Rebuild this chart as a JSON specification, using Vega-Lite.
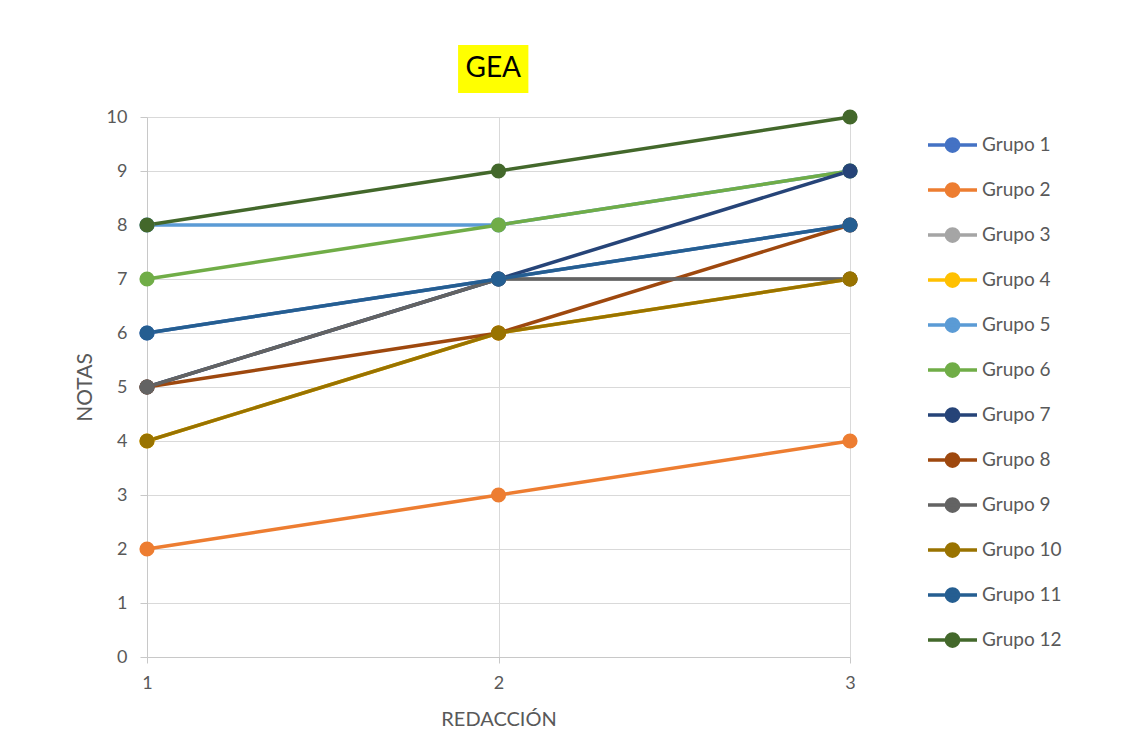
{
  "$schema": "https://vega.github.io/schema/vega-lite/v6.json",
  "width": 703,
  "height": 540,
  "autosize": {"type": "none"},
  "padding": {"left": 147, "top": 117, "right": 278, "bottom": 74},
  "background": "white",
  "config": {
    "font": "Lato",
    "view": {"stroke": null},
    "axis": {
      "grid": true,
      "gridColor": "#D9D9D9",
      "gridWidth": 1,
      "domainColor": "#C8C8C8",
      "domainWidth": 1,
      "tickColor": "#C8C8C8",
      "labelColor": "#595959",
      "labelFlush": false,
      "labelOverlap": false,
      "titleFontWeight": "normal",
      "titleColor": "#595959"
    }
  },
  "layer": [
    {
      "data": {
        "values": [
          {"grupo": "Grupo 1", "redaccion": 1, "nota": 6},
          {"grupo": "Grupo 1", "redaccion": 2, "nota": 7},
          {"grupo": "Grupo 1", "redaccion": 3, "nota": 8},
          {"grupo": "Grupo 2", "redaccion": 1, "nota": 2},
          {"grupo": "Grupo 2", "redaccion": 2, "nota": 3},
          {"grupo": "Grupo 2", "redaccion": 3, "nota": 4},
          {"grupo": "Grupo 3", "redaccion": 1, "nota": 5},
          {"grupo": "Grupo 3", "redaccion": 2, "nota": 7},
          {"grupo": "Grupo 3", "redaccion": 3, "nota": 7},
          {"grupo": "Grupo 4", "redaccion": 1, "nota": 4},
          {"grupo": "Grupo 4", "redaccion": 2, "nota": 6},
          {"grupo": "Grupo 4", "redaccion": 3, "nota": 7},
          {"grupo": "Grupo 5", "redaccion": 1, "nota": 8},
          {"grupo": "Grupo 5", "redaccion": 2, "nota": 8},
          {"grupo": "Grupo 5", "redaccion": 3, "nota": 9},
          {"grupo": "Grupo 6", "redaccion": 1, "nota": 7},
          {"grupo": "Grupo 6", "redaccion": 2, "nota": 8},
          {"grupo": "Grupo 6", "redaccion": 3, "nota": 9},
          {"grupo": "Grupo 7", "redaccion": 1, "nota": 5},
          {"grupo": "Grupo 7", "redaccion": 2, "nota": 7},
          {"grupo": "Grupo 7", "redaccion": 3, "nota": 9},
          {"grupo": "Grupo 8", "redaccion": 1, "nota": 5},
          {"grupo": "Grupo 8", "redaccion": 2, "nota": 6},
          {"grupo": "Grupo 8", "redaccion": 3, "nota": 8},
          {"grupo": "Grupo 9", "redaccion": 1, "nota": 5},
          {"grupo": "Grupo 9", "redaccion": 2, "nota": 7},
          {"grupo": "Grupo 9", "redaccion": 3, "nota": 7},
          {"grupo": "Grupo 10", "redaccion": 1, "nota": 4},
          {"grupo": "Grupo 10", "redaccion": 2, "nota": 6},
          {"grupo": "Grupo 10", "redaccion": 3, "nota": 7},
          {"grupo": "Grupo 11", "redaccion": 1, "nota": 6},
          {"grupo": "Grupo 11", "redaccion": 2, "nota": 7},
          {"grupo": "Grupo 11", "redaccion": 3, "nota": 8},
          {"grupo": "Grupo 12", "redaccion": 1, "nota": 8},
          {"grupo": "Grupo 12", "redaccion": 2, "nota": 9},
          {"grupo": "Grupo 12", "redaccion": 3, "nota": 10}
        ]
      },
      "mark": {
        "type": "line",
        "strokeWidth": 3.5,
        "point": {"filled": true, "size": 230, "opacity": 1}
      },
      "encoding": {
        "x": {
          "field": "redaccion",
          "type": "quantitative",
          "scale": {"domain": [1, 3], "nice": false, "zero": false},
          "axis": {
            "title": "REDACCIÓN",
            "tickCount": 2,
            "tickMinStep": 1,
            "format": "d",
            "tickSize": 6,
            "labelFontSize": 18,
            "labelPadding": 11,
            "titleFontSize": 20,
            "titlePadding": 17
          }
        },
        "y": {
          "field": "nota",
          "type": "quantitative",
          "scale": {"domain": [0, 10], "nice": false},
          "axis": {
            "title": "NOTAS",
            "tickCount": 10,
            "tickMinStep": 1,
            "format": "d",
            "tickSize": 7,
            "labelFontSize": 18,
            "labelPadding": 13,
            "titleFontSize": 21,
            "titlePadding": 11
          }
        },
        "color": {
          "field": "grupo",
          "type": "nominal",
          "scale": {
            "domain": ["Grupo 1", "Grupo 2", "Grupo 3", "Grupo 4", "Grupo 5", "Grupo 6", "Grupo 7", "Grupo 8", "Grupo 9", "Grupo 10", "Grupo 11", "Grupo 12"],
            "range": ["#4472C4", "#ED7D31", "#A5A5A5", "#FFC000", "#5B9BD5", "#70AD47", "#264478", "#9E480E", "#636363", "#997300", "#255E91", "#43682B"]
          },
          "legend": {
            "orient": "none",
            "legendX": 779,
            "legendY": 18,
            "title": null,
            "padding": 0,
            "symbolType": "M-1,0L1,0M0.25,0A0.25,0.25,0,1,1,-0.25,0A0.25,0.25,0,1,1,0.25,0Z",
            "symbolSize": 2401,
            "symbolStrokeWidth": 3.5,
            "symbolOpacity": 1,
            "clipHeight": 20,
            "rowPadding": 25,
            "labelFontSize": 19,
            "labelColor": "#595959",
            "labelOffset": 3,
            "encode": {
              "symbols": {
                "update": {
                  "fill": {"scale": "color", "field": "value"},
                  "stroke": {"scale": "color", "field": "value"}
                }
              }
            }
          }
        }
      }
    },
    {
      "data": {"values": [{"titulo": "GEA"}]},
      "mark": {"type": "rect", "color": "#FFFF00", "clip": false},
      "encoding": {
        "x": {
          "datum": 1.885,
          "type": "quantitative",
          "axis": {
            "title": "REDACCIÓN",
            "tickCount": 2,
            "tickMinStep": 1,
            "format": "d",
            "tickSize": 6,
            "labelFontSize": 18,
            "labelPadding": 11,
            "titleFontSize": 20,
            "titlePadding": 17
          }
        },
        "x2": {"datum": 2.085},
        "y": {
          "datum": 11.333,
          "type": "quantitative",
          "axis": {
            "title": "NOTAS",
            "tickCount": 10,
            "tickMinStep": 1,
            "format": "d",
            "tickSize": 7,
            "labelFontSize": 18,
            "labelPadding": 13,
            "titleFontSize": 21,
            "titlePadding": 11
          }
        },
        "y2": {"datum": 10.444}
      }
    },
    {
      "data": {"values": [{"titulo": "GEA"}]},
      "mark": {"type": "text", "font": "Lato", "fontSize": 28, "color": "#000000", "align": "center", "baseline": "middle", "clip": false},
      "encoding": {
        "x": {
          "datum": 1.985,
          "type": "quantitative",
          "axis": {
            "title": "REDACCIÓN",
            "tickCount": 2,
            "tickMinStep": 1,
            "format": "d",
            "tickSize": 6,
            "labelFontSize": 18,
            "labelPadding": 11,
            "titleFontSize": 20,
            "titlePadding": 17
          }
        },
        "y": {
          "datum": 10.889,
          "type": "quantitative",
          "axis": {
            "title": "NOTAS",
            "tickCount": 10,
            "tickMinStep": 1,
            "format": "d",
            "tickSize": 7,
            "labelFontSize": 18,
            "labelPadding": 13,
            "titleFontSize": 21,
            "titlePadding": 11
          }
        },
        "text": {"field": "titulo", "type": "nominal"}
      }
    }
  ]
}
